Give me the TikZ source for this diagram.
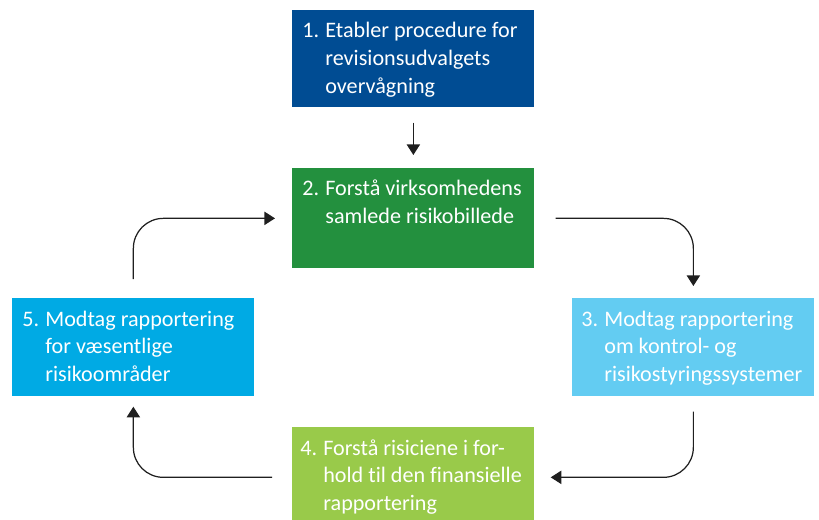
\documentclass[tikz,border=0pt]{standalone}
\usepackage{fontspec}
\setmainfont{Carlito}[Ligatures=NoCommon]
\usetikzlibrary{arrows.meta}

\definecolor{moerkblaa}{RGB}{0,76,147}
\definecolor{groen}{RGB}{35,144,62}
\definecolor{lyseblaa}{RGB}{99,204,242}
\definecolor{lysegroen}{RGB}{153,202,74}
\definecolor{blaa}{RGB}{0,170,228}

\newcommand{\trin}[2]{\makebox[0.46cm][l]{#1}\begin{tabular}[t]{@{}l@{}}#2\end{tabular}}

\begin{document}
\begin{tikzpicture}[
    font=\fontsize{12.6}{15.9}\selectfont,
    boks/.style={rectangle,draw=none,inner sep=0pt,anchor=north west,
                 minimum width=4.84cm,minimum height=1.96cm},
    tekst/.style={anchor=base west,inner sep=0pt,text=white},
    pil/.style={line width=0.7pt,black!88,rounded corners=0.6cm,
                -{Triangle[width=7.5pt,length=6pt]}}]

  \useasboundingbox (0,0) rectangle (16.38,-10.4);

  % ---- de fem trin ---------------------------------------------------------
  \node[boks,fill=moerkblaa,minimum height=1.94cm] (b1) at (5.84,-0.20) {};
  \node[boks,fill=groen,minimum height=2.00cm]     (b2) at (5.84,-3.36) {};
  \node[boks,fill=lyseblaa]                        (b3) at (11.44,-5.96) {};
  \node[boks,fill=lysegroen,minimum height=2.00cm] (b4) at (5.84,-8.54) {};
  \node[boks,fill=blaa]                            (b5) at (0.24,-5.96) {};

  % ---- tekster -------------------------------------------------------------
  \node[tekst] (t1) at ([shift={(0.20,-0.55)}]b1.north west)
        {\trin{1.}{Etabler procedure for\\revisionsudvalgets\\overvågning}};
  \node[tekst] (t2) at ([shift={(0.20,-0.55)}]b2.north west)
        {\trin{2.}{Forstå virksomhedens\\samlede risikobillede}};
  \node[tekst] (t3) at ([shift={(0.18,-0.56)}]b3.north west)
        {\trin{3.}{Modtag rapportering\\om kontrol- og\\risikostyringssystemer}};
  \node[tekst] (t4) at ([shift={(0.16,-0.56)}]b4.north west)
        {\trin{4.}{Forstå risiciene i for-\\hold til den finansielle\\rapportering}};
  \node[tekst] (t5) at ([shift={(0.20,-0.56)}]b5.north west)
        {\trin{5.}{Modtag rapportering\\for væsentlige\\risikoområder}};

  % ---- pile ----------------------------------------------------------------
  \draw[pil,shorten <=0.30cm,shorten >=0.26cm] (b1.south) -- (b2.north);
  \draw[pil] ([xshift=0.42cm]b2.east) -| ([yshift=0.24cm]b3.north);
  \draw[pil] ([yshift=-0.30cm]b3.south) |- ([xshift=0.32cm]b4.east);
  \draw[pil] ([xshift=-0.40cm]b4.west) -| ([yshift=-0.20cm]b5.south);
  \draw[pil] ([yshift=0.38cm]b5.north) |- ([xshift=-0.34cm]b2.west);

\end{tikzpicture}
\end{document}
